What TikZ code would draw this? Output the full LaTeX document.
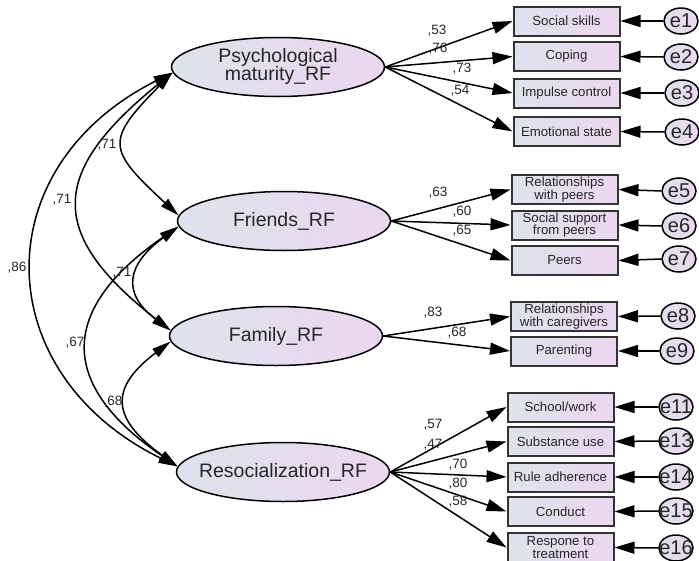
\documentclass[tikz,border=0pt]{standalone}
\usepackage{fontspec}
\setmainfont{Liberation Sans}
\usetikzlibrary{arrows.meta,shapes.geometric}

\definecolor{lftc}{HTML}{DEE3EC}
\definecolor{rgtc}{HTML}{EBD6F0}
\definecolor{txtc}{HTML}{262626}
\newcommand{\ctrbox}[1]{\makebox[0pt][c]{#1}}

\tikzset{
 lat/.style={ellipse, draw=black, line width=1.5pt, left color=lftc, right color=rgtc,
   minimum width=213pt, minimum height=59pt, inner sep=0pt,
   font=\fontsize{19.5}{20}\selectfont, text=txtc},
 obs/.style={rectangle, draw=black!80, line width=2pt, left color=lftc, right color=rgtc,
   minimum width=106pt, minimum height=29pt, inner sep=0pt, align=center,
   font=\fontsize{13.2}{12.8}\selectfont, text=txtc},
 err/.style={ellipse, draw=black, line width=1.5pt, left color=lftc, right color=rgtc,
   minimum width=34pt, minimum height=26pt, inner sep=0pt,
   font=\fontsize{20}{20}\selectfont, text=txtc},
 coef/.style={inner sep=0pt, font=\fontsize{13.5}{13.5}\selectfont, text=txtc},
 pth/.style={line width=1.5pt, -{Triangle[length=20pt,width=12pt]}},
 cov/.style={line width=1.5pt, {Triangle[length=19pt,width=10pt]}-{Triangle[length=19pt,width=10pt]}},
}

\begin{document}
\begin{tikzpicture}[x=1pt,y=-1pt]
\useasboundingbox (0,0) rectangle (699,560);

% latent variables
\node[lat] (psy) at (278,67) {\ctrbox{\begin{tabular}{@{}c@{}}Psychological\\[-2pt]maturity\_RF\end{tabular}}};
\node[lat] (fri) at (284,221) {\ctrbox{Friends\_RF}};
\node[lat] (fam) at (276,336) {\ctrbox{Family\_RF}};
\node[lat] (reso) at (283,472) {\ctrbox{Resocialization\_RF}};

% observed variables
\node[obs] (ss)  at (566.5,21)   {Social skills};
\node[obs] (cop) at (566.5,56.5) {Coping};
\node[obs] (imp) at (566.5,93)   {Impulse control};
\node[obs] (emo) at (566.5,131.5){Emotional state};

\node[obs] (rwp)  at (564.5,189.5) {Relationships\\with peers};
\node[obs] (ssp)  at (564.5,225)   {Social support\\from peers};
\node[obs] (peer) at (564.5,260.5) {Peers};

\node[obs] (rwc) at (564,316.5) {Relationships\\with caregivers};
\node[obs] (par) at (564,351)   {Parenting};

\node[obs] (sch) at (560.5,407)   {School/work};
\node[obs] (sub) at (560.5,441.5) {Substance use};
\node[obs] (rul) at (560.5,477)   {Rule adherence};
\node[obs] (con) at (560.5,511.5) {Conduct};
\node[obs] (trt) at (560.5,547.5) {Respone to\\treatment};

% error terms
\node[err] (e1)  at (681,21)  {\ctrbox{e1}};
\node[err] (e2)  at (681,57)  {\ctrbox{e2}};
\node[err] (e3)  at (682,93)  {\ctrbox{e3}};
\node[err] (e4)  at (682,132) {\ctrbox{e4}};
\node[err] (e5)  at (679,191) {\ctrbox{e5}};
\node[err] (e6)  at (679,226) {\ctrbox{e6}};
\node[err] (e7)  at (679,259) {\ctrbox{e7}};
\node[err] (e8)  at (678,316) {\ctrbox{e8}};
\node[err] (e9)  at (677,351) {\ctrbox{e9}};
\node[err] (e11) at (676,407) {\ctrbox{e11}};
\node[err] (e13) at (676,441) {\ctrbox{e13}};
\node[err] (e14) at (676,477) {\ctrbox{e14}};
\node[err] (e15) at (676,511) {\ctrbox{e15}};
\node[err] (e16) at (676,548) {\ctrbox{e16}};

% loadings
\draw[pth] (psy.east) -- (ss.west);
\draw[pth] (psy.east) -- (cop.west);
\draw[pth] (psy.east) -- (imp.west);
\draw[pth] (psy.east) -- (emo.west);
\draw[pth] (fri.east) -- (rwp.west);
\draw[pth] (fri.east) -- (ssp.west);
\draw[pth] (fri.east) -- (peer.west);
\draw[pth] (fam.east) -- (rwc.west);
\draw[pth] (fam.east) -- (par.west);
\draw[pth] (reso.east) -- (sch.west);
\draw[pth] (reso.east) -- (sub.west);
\draw[pth] (reso.east) -- (rul.west);
\draw[pth] (reso.east) -- (con.west);
\draw[pth] (reso.east) -- (trt.west);

% error arrows
\draw[pth] (e1.west) -- (ss.east);
\draw[pth] (e2.west) -- (cop.east);
\draw[pth] (e3.west) -- (imp.east);
\draw[pth] (e4.west) -- (emo.east);
\draw[pth] (e5.west) -- (rwp.east);
\draw[pth] (e6.west) -- (ssp.east);
\draw[pth] (e7.west) -- (peer.east);
\draw[pth] (e8.west) -- (rwc.east);
\draw[pth] (e9.west) -- (par.east);
\draw[pth] (e11.west) -- (sch.east);
\draw[pth] (e13.west) -- (sub.east);
\draw[pth] (e14.west) -- (rul.east);
\draw[pth] (e15.west) -- (con.east);
\draw[pth] (e16.west) -- (trt.east);

% covariances
\draw[cov] (psy.183) .. controls (105,141) and (107,149) .. (fri.177);
\draw[cov] (psy.183) .. controls (50,172) and (46,233) .. (fam.177);
\draw[cov] (psy.183) .. controls (-17,168) and (-11,374) .. (reso.177);
\draw[cov] (fri.183) .. controls (127,264) and (121,293) .. (fam.177);
\draw[cov] (fri.183) .. controls (59,309) and (57,384) .. (reso.177);
\draw[cov] (fam.183) .. controls (108,389) and (112,419) .. (reso.177);

% coefficient labels
\node[coef] (c1) at (437,31) {,53};
\node[coef] (c2) at (438,49) {,76};
\node[coef] (c3) at (462,69) {,73};
\node[coef] (c4) at (460,91) {,54};
\node[coef] (c5) at (438,193) {,63};
\node[coef] (c6) at (462,212) {,60};
\node[coef] (c7) at (462,231) {,65};
\node[coef] (c8) at (433,313) {,83};
\node[coef] (c9) at (457,333) {,68};
\node[coef] (c10) at (433,425) {,57};
\node[coef] (c11) at (433,445) {,47};
\node[coef] (c12) at (458,465) {,70};
\node[coef] (c13) at (458,484) {,80};
\node[coef] (c14) at (458,502) {,58};

\node[coef] (k1) at (107,145) {,71};
\node[coef] (k2) at (62,200) {,71};
\node[coef] (k3) at (17,268) {,86};
\node[coef] (k4) at (122,273) {,71};
\node[coef] (k5) at (75,343) {,67};
\node[coef] (k6) at (113,402) {,68};
\end{tikzpicture}
\end{document}
